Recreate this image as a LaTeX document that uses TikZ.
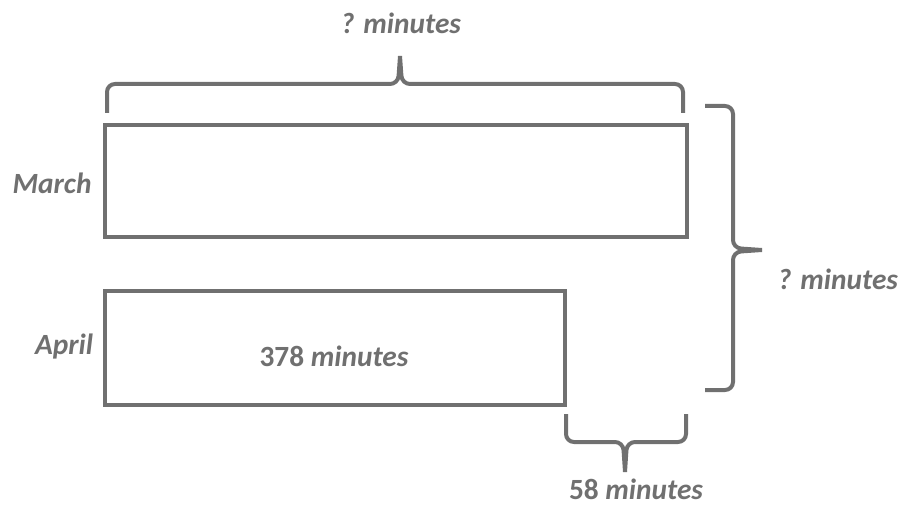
\documentclass[tikz,border=0pt]{standalone}
\usepackage{fontspec}
\setmainfont{Carlito}
\definecolor{inkgray}{HTML}{707070}
\tikzset{
  bar/.style={draw=inkgray, line width=3pt, inner sep=0pt, outer sep=0pt},
  brace/.style={draw=inkgray, line width=3pt, rounded corners=6pt},
  lbl/.style={text=inkgray, font=\fontsize{22}{26}\selectfont\bfseries\itshape, inner sep=0pt}
}
\begin{document}
\begin{tikzpicture}[x=0.75pt, y=-0.75pt]
\useasboundingbox (0,0) rectangle (899,506);
% bars
\node[bar, minimum width=436pt, minimum height=84pt] (march) at (396,181) {};
\node[bar, minimum width=345pt, minimum height=85pt] (april) at (335,348) {};
\node[lbl] (marchlbl) at (52,183) {March};
\node[lbl] (aprillbl) at (64,347) {April};
\node[lbl] (aprilval) at (334,356) {\upshape 378 \itshape minutes};
% braces
\draw[brace] (107,113) -- (107,84) -- (398,84) -- (400,56);
\draw[brace] (400,56) -- (402,84) -- (683,84) -- (683,113);
\node[lbl] (toplbl) at (401,23) {? minutes};
\draw[brace] (705,106) -- (733,106) -- (733,248) -- (762,250);
\draw[brace] (762,250) -- (733,252) -- (733,390) -- (705,390);
\node[lbl] (rightlbl) at (838,279) {? minutes};
\draw[brace] (566,414) -- (566,442) -- (623,442) -- (625,472);
\draw[brace] (625,472) -- (627,442) -- (686,442) -- (686,414);
\node[lbl] (botlbl) at (636,489) {\upshape 58 \itshape minutes};
\end{tikzpicture}
\end{document}
